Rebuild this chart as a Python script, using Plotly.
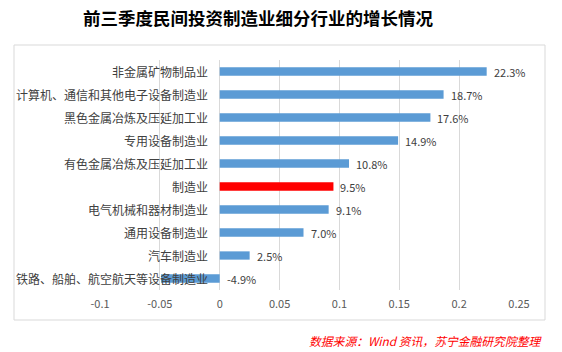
import plotly.graph_objects as go

categories = ["非金属矿物制品业", "计算机、通信和其他电子设备制造业", "黑色金属冶炼及压延加工业",
              "专用设备制造业", "有色金属冶炼及压延加工业", "制造业", "电气机械和器材制造业",
              "通用设备制造业", "汽车制造业", "铁路、船舶、航空航天等设备制造业"]
values = [0.223, 0.187, 0.176, 0.149, 0.108, 0.095, 0.091, 0.070, 0.025, -0.049]
value_labels = ["22.3%", "18.7%", "17.6%", "14.9%", "10.8%", "9.5%", "9.1%", "7.0%", "2.5%", "-4.9%"]
tick_vals = [-0.1, -0.05, 0, 0.05, 0.1, 0.15, 0.2, 0.25]
tick_text = ["-0.1", "-0.05", "0", "0.05", "0.1", "0.15", "0.2", "0.25"]
highlight = "制造业"

W, H = 562, 352
L, R, T, B = 100, 519, 60, 290

def px(x):
    return (x - L) / (R - L)

def py(y):
    return (B - y) / (B - T)

colors = ["#FF0000" if c == highlight else "#5B9BD5" for c in categories]
FONT = "Noto Sans CJK SC"

fig = go.Figure(go.Bar(
    x=values, y=categories, orientation="h",
    marker=dict(color=colors, line=dict(width=0)),
    width=0.36, hoverinfo="skip",
))

annotations = []
for c, v, lab in zip(categories, values, value_labels):
    annotations.append(dict(x=max(v, 0), y=c, xref="x", yref="y", text=lab,
                            showarrow=False, xanchor="left", xshift=5,
                            font=dict(family=FONT, size=11, color="#404040")))
    annotations.append(dict(x=0, y=c, xref="x", yref="y", text=c,
                            showarrow=False, xanchor="right", xshift=-10,
                            font=dict(family=FONT, size=12, color="#404040")))

annotations.append(dict(x=px(258), y=py(18), xref="paper", yref="paper",
                        text="<b>前三季度民间投资制造业细分行业的增长情况</b>",
                        showarrow=False, xanchor="center", yanchor="middle",
                        font=dict(family=FONT, size=17.5, color="#000000")))
annotations.append(dict(x=px(545), y=py(340), xref="paper", yref="paper",
                        text="<i>数据来源：Wind 资讯，苏宁金融研究院整理</i>",
                        showarrow=False, xanchor="right", yanchor="middle",
                        font=dict(family=FONT, size=11.8, color="#FF0000")))

fig.update_layout(
    width=W, height=H,
    margin=dict(l=L, r=W - R, t=T, b=H - B, pad=0),
    paper_bgcolor="white", plot_bgcolor="white",
    showlegend=False,
    xaxis=dict(range=[-0.1, 0.25], tickvals=tick_vals, ticktext=tick_text,
               showgrid=True, gridcolor="#D9D9D9", gridwidth=1,
               zeroline=True, zerolinecolor="#D9D9D9", zerolinewidth=1,
               showline=False, ticks="", ticklabelstandoff=6,
               tickfont=dict(family=FONT, size=11, color="#595959"),
               fixedrange=True),
    yaxis=dict(categoryorder="array", categoryarray=categories, autorange="reversed",
               showticklabels=False, showgrid=False, zeroline=False, ticks="",
               fixedrange=True),
    annotations=annotations,
    shapes=[dict(type="rect", xref="paper", yref="paper",
                 x0=px(14), x1=px(545), y0=py(320), y1=py(45),
                 line=dict(color="#D9D9D9", width=1), layer="below")],
)

fig.write_html("out.html")
